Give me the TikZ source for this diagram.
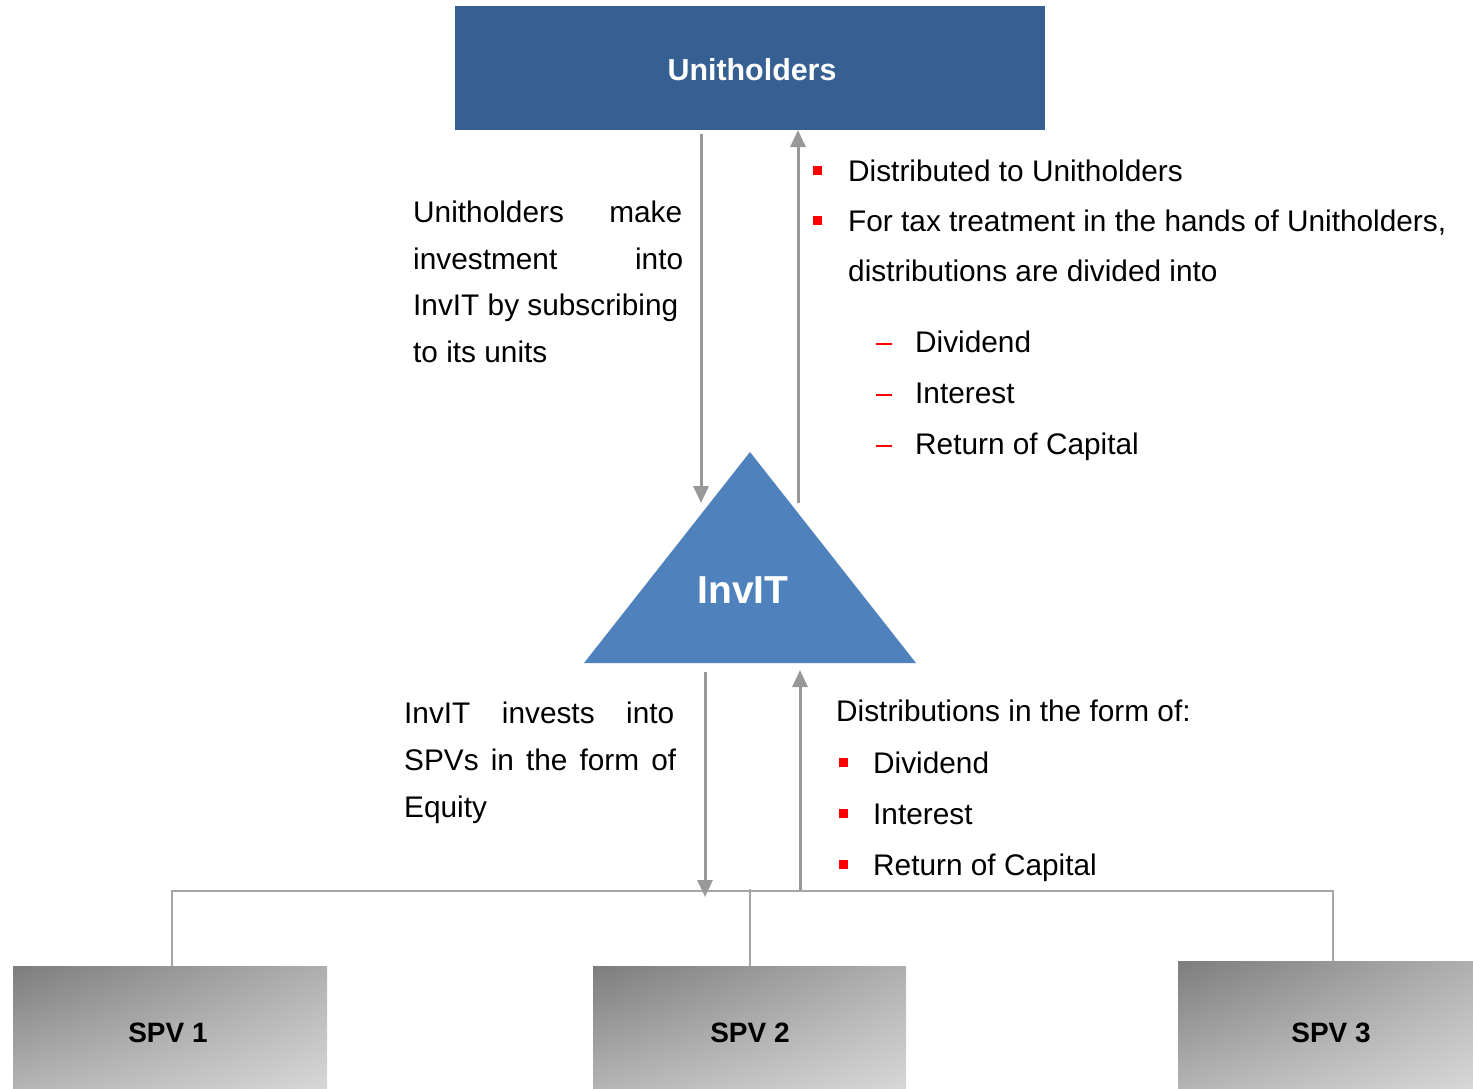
\documentclass[tikz,border=0pt]{standalone}
\usepackage{fontspec}
\setmainfont{Liberation Sans}
\usetikzlibrary{arrows.meta,shadings}
\definecolor{uhblue}{RGB}{54,96,146}
\definecolor{trblue}{RGB}{79,129,189}
\definecolor{arrgray}{RGB}{152,152,152}
\definecolor{lngray}{RGB}{165,165,165}
\definecolor{bred}{RGB}{255,0,0}
\definecolor{gUL}{RGB}{125,125,125}
\definecolor{gUR}{RGB}{175,175,175}
\definecolor{gLL}{RGB}{180,180,180}
\definecolor{gLR}{RGB}{215,215,215}
\begin{document}
\begin{tikzpicture}[x=1pt,y=-1pt,
  flow/.style={draw=arrgray, line width=3pt, -{Triangle[width=15pt,length=17pt]}},
  link/.style={draw=lngray, line width=2pt},
  txt/.style={anchor=base west, inner sep=0pt, font=\fontsize{29.8}{35}\selectfont},
  title/.style={text=white, inner sep=0pt, font=\bfseries\fontsize{30.4}{36}\selectfont},
  spvbox/.style={inner sep=0pt, shade, upper left=gUL, upper right=gUR, lower left=gLL, lower right=gLR},
  spvtxt/.style={inner sep=0pt, font=\bfseries\fontsize{28}{33}\selectfont},
  sq/.style={fill=bred, minimum size=9pt, inner sep=0pt},
  dashmark/.style={draw=bred, line width=2pt}
]
\useasboundingbox (0,0) rectangle (1473,1088);

% Unitholders
\node[fill=uhblue, minimum width=590pt, minimum height=124pt, inner sep=0pt] (U) at (750,68) {};
\node[title] (Ut) at (752,70) {Unitholders};

% InvIT triangle
\coordinate (apex) at (750,452);
\coordinate (bl) at (584,663);
\coordinate (br) at (916,663);
\fill[trblue] (apex) -- (br) -- (bl) -- cycle;
\node[title, font=\bfseries\fontsize{39}{45}\selectfont] (inv) at (743,590) {InvIT};

% Upper arrows
\coordinate (a1s) at (701,134);
\coordinate (a1e) at (701,503);
\coordinate (a2s) at (798,503);
\coordinate (a2e) at (798,130);
\draw[flow] (a1s) -- (a1e);
\draw[flow] (a2s) -- (a2e);

% Lower arrows
\coordinate (a3s) at (705,672);
\coordinate (a3e) at (705,897);
\coordinate (a4s) at (800,890);
\coordinate (a4e) at (800,670);

% SPV boxes
\node[spvbox, minimum width=314pt, minimum height=122pt] (s1) at (170,1027) {};
\node[spvbox, minimum width=313pt, minimum height=122pt] (s2) at (749.5,1027) {};
\node[spvbox, minimum width=295pt, minimum height=127pt] (s3) at (1325.5,1024.5) {};
\node[spvtxt] (s1t) at (168,1033) {SPV 1};
\node[spvtxt] (s2t) at (750,1033) {SPV 2};
\node[spvtxt] (s3t) at (1331,1033) {SPV 3};

% bus
\coordinate (b1) at (172,891);
\coordinate (b2) at (750,889);
\coordinate (b3) at (1333,891);
\draw[link] (b1 |- s1.north) -- (b1) -- (b3) -- (b3 |- s3.north);
\draw[link] (b2) -- (b2 |- s2.north);

\draw[flow] (a3s) -- (a3e);
\draw[flow] (a4s) -- (a4e);

% Left upper text
\node[txt] (l1) at (413,222) {\makebox[269pt][s]{Unitholders make}};
\node[txt] (l2) at (413,269) {\makebox[270pt][s]{investment into}};
\node[txt] (l3) at (413,315) {\makebox[265pt][s]{InvIT by subscribing}};
\node[txt] (l4) at (413,362) {to its units};

% Right upper text
\node[sq] (q1) at (817.5,170) {};
\node[txt] (r1) at (848,181) {Distributed to Unitholders};
\node[sq] (q2) at (817.5,220) {};
\node[txt] (r2) at (848,231) {For tax treatment in the hands of Unitholders,};
\node[txt] (r3) at (848,281) {distributions are divided into};
\draw[dashmark] (876,344) -- (892,344);
\node[txt] (r4) at (915,352) {Dividend};
\draw[dashmark] (876,395) -- (892,395);
\node[txt] (r5) at (915,403) {Interest};
\draw[dashmark] (876,446) -- (892,446);
\node[txt] (r6) at (915,454) {Return of Capital};

% Left lower text
\node[txt] (m1) at (404,723) {\makebox[270pt][s]{InvIT invests into}};
\node[txt] (m2) at (404,770) {\makebox[272pt][s]{SPVs in the form of}};
\node[txt] (m3) at (404,817) {Equity};

% Right lower text
\node[txt] (n0) at (836,721) {Distributions in the form of:};
\node[sq] (p1) at (843.5,762) {};
\node[txt] (n1) at (873,773) {Dividend};
\node[sq] (p2) at (843.5,813) {};
\node[txt] (n2) at (873,824) {Interest};
\node[sq] (p3) at (843.5,864) {};
\node[txt] (n3) at (873,875) {Return of Capital};
\end{tikzpicture}
\end{document}
